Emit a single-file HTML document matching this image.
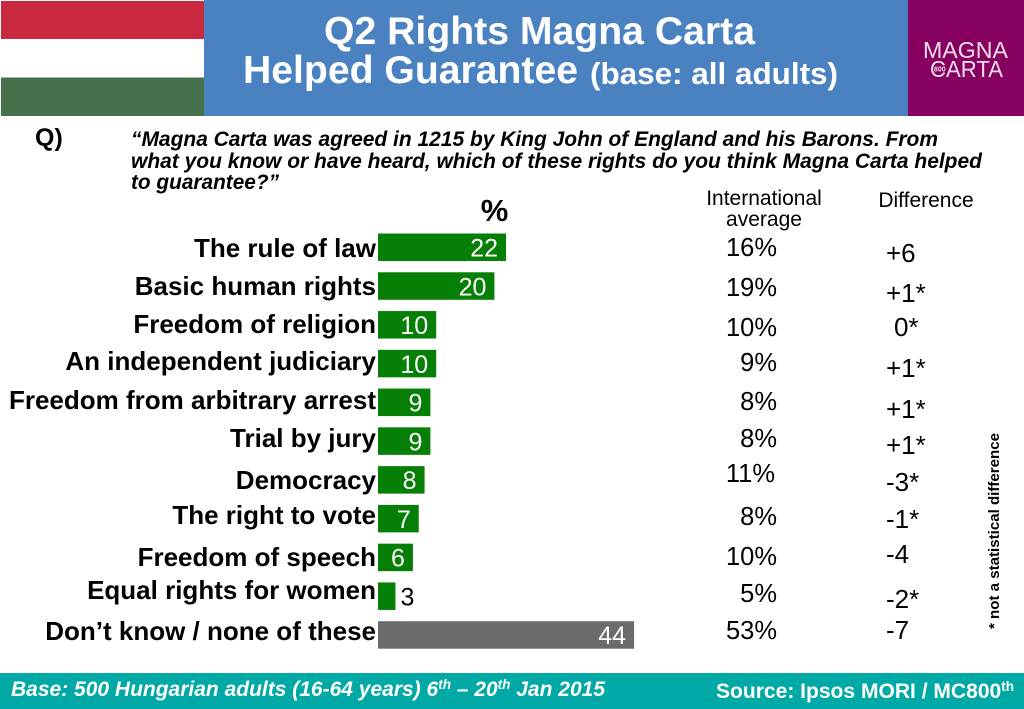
<!DOCTYPE html>
<html lang="en">
<head>
<meta charset="utf-8">
<title>Q2 Rights Magna Carta Helped Guarantee</title>
<style>
html,body{margin:0;padding:0;background:#fff;width:1024px;height:709px;overflow:hidden}
svg{display:block;font-family:"Liberation Sans",Arial,sans-serif}
</style>
</head>
<body>
<svg id="slide" xmlns="http://www.w3.org/2000/svg" width="1024" height="709" viewBox="0 0 1024 709">
  <rect x="0" y="0" width="1024" height="709" fill="#fff"/>

  <g>
    <rect x="1" y="1" width="203" height="38" fill="#c92a40"/>
    <rect x="1" y="39" width="203" height="38.500" fill="#fff"/>
    <rect x="1" y="77.500" width="203" height="38.500" fill="#47704c"/>
  </g>

  <rect x="204" y="0" width="704" height="116" fill="#4a81c1"/>
  <text x="539.500" y="44" font-size="39" font-weight="700" fill="#fff" text-anchor="middle" textLength="431" lengthAdjust="spacingAndGlyphs">Q2 Rights Magna Carta</text>
  <text x="243" y="83" font-size="39" font-weight="700" fill="#fff" textLength="335" lengthAdjust="spacingAndGlyphs">Helped Guarantee</text>
  <text x="590" y="84" font-size="31" font-weight="700" fill="#fff" textLength="248" lengthAdjust="spacingAndGlyphs">(base: all adults)</text>

  <g>
    <rect x="908" y="0" width="116" height="116" fill="#85005f"/>
    <text x="923" y="58" font-size="23" fill="#f3dcec" textLength="85" lengthAdjust="spacingAndGlyphs">MAGNA</text>
    <text x="930" y="77" font-size="23" fill="#f3dcec" textLength="73" lengthAdjust="spacingAndGlyphs">CARTA</text>
    <text x="934" y="71.500" font-size="7" font-weight="700" fill="#f3dcec" stroke="#85005f" stroke-width="2" paint-order="stroke">800</text>
  </g>

  <text x="35" y="146" font-size="25" font-weight="700" fill="#000">Q)</text>
  <g font-size="21" font-weight="700" font-style="italic" fill="#000">
    <text x="131" y="146" textLength="807" lengthAdjust="spacingAndGlyphs">“Magna Carta was agreed in 1215 by King John of England and his Barons. From</text>
    <text x="131" y="168" textLength="851" lengthAdjust="spacingAndGlyphs">what you know or have heard, which of these rights do you think Magna Carta helped</text>
    <text x="131" y="189" textLength="148" lengthAdjust="spacingAndGlyphs">to guarantee?”</text>
  </g>

  <text x="494.500" y="221" font-size="31" font-weight="700" fill="#000" text-anchor="middle">%</text>
  <text x="764" y="205" font-size="21" fill="#000" text-anchor="middle">International</text>
  <text x="764" y="226" font-size="21" fill="#000" text-anchor="middle">average</text>
  <text x="926" y="207" font-size="21" fill="#000" text-anchor="middle">Difference</text>

  <g font-size="26" font-weight="700" fill="#000" text-anchor="end">
    <text x="376" y="257">The rule of law</text>
    <text x="376" y="295">Basic human rights</text>
    <text x="376" y="333">Freedom of religion</text>
    <text x="376" y="370">An independent judiciary</text>
    <text x="376" y="409">Freedom from arbitrary arrest</text>
    <text x="376" y="447">Trial by jury</text>
    <text x="376" y="489">Democracy</text>
    <text x="376" y="524">The right to vote</text>
    <text x="376" y="566">Freedom of speech</text>
    <text x="376" y="599">Equal rights for women</text>
    <text x="376" y="640">Don’t know / none of these</text>
  </g>

  <g id="bars"></g>

  <g font-size="25.500" fill="#000" text-anchor="end">
    <text x="777" y="256">16%</text>
    <text x="777" y="296">19%</text>
    <text x="777" y="336">10%</text>
    <text x="777" y="371">9%</text>
    <text x="777" y="410">8%</text>
    <text x="777" y="447">8%</text>
    <text x="775" y="482">11%</text>
    <text x="777" y="525">8%</text>
    <text x="777" y="565">10%</text>
    <text x="777" y="602">5%</text>
    <text x="777" y="639">53%</text>
  </g>

  <g font-size="26" fill="#000">
    <text x="886" y="262">+6</text>
    <text x="886" y="302">+1*</text>
    <text x="894" y="336">0*</text>
    <text x="886" y="377">+1*</text>
    <text x="886" y="418">+1*</text>
    <text x="886" y="454">+1*</text>
    <text x="886" y="491">-3*</text>
    <text x="886" y="528">-1*</text>
    <text x="886" y="563">-4</text>
    <text x="886" y="608">-2*</text>
    <text x="886" y="639">-7</text>
  </g>

  <text transform="translate(999 629) rotate(-90)" font-size="14.500" font-weight="700" fill="#000" textLength="196" lengthAdjust="spacingAndGlyphs">* not a statistical difference</text>

  <rect x="0" y="673" width="1024" height="36" fill="#00a9a5"/>
  <text x="11" y="696" font-size="21" font-weight="700" font-style="italic" fill="#fff" textLength="594" lengthAdjust="spacingAndGlyphs">Base: 500 Hungarian adults (16-64 years) 6<tspan font-size="13.500" dy="-7">th</tspan><tspan dy="7"> – 20</tspan><tspan font-size="13.500" dy="-7">th</tspan><tspan dy="7"> Jan 2015</tspan></text>
  <text x="716" y="698" font-size="21" font-weight="700" fill="#fff" textLength="298" lengthAdjust="spacingAndGlyphs">Source: Ipsos MORI / MC800<tspan font-size="13.500" dy="-7">th</tspan></text>
</svg>
<script>
const categories = ["The rule of law","Basic human rights","Freedom of religion","An independent judiciary","Freedom from arbitrary arrest","Trial by jury","Democracy","The right to vote","Freedom of speech","Equal rights for women","Don't know / none of these"];
const percentValues = [22,20,10,10,9,9,8,7,6,3,44];
const noOpinionCategory = "Don't know / none of these";

const SVG_NS = 'http://www.w3.org/2000/svg';
const barOriginX = 378;
const pixelsPerPoint = 5.82;
const firstBarTop = 233.5;
const rowStep = 38.77;
const barHeight = 27.5;
const xScale = function (value) { return barOriginX + value * pixelsPerPoint; };
const yScale = function (index) { return firstBarTop + index * rowStep; };
const barGroup = document.getElementById('bars');

categories.forEach(function (category, index) {
  const value = percentValues[index];
  const slug = category.toLowerCase().replace(/[^a-z]+/g, '-');
  const bar = document.createElementNS(SVG_NS, 'rect');
  
  
  bar.setAttribute('x', barOriginX);
  bar.setAttribute('y', yScale(index));
  bar.setAttribute('width', xScale(value) - barOriginX);
  bar.setAttribute('height', barHeight);
  bar.setAttribute('fill', category === noOpinionCategory ? '#6b6b6b' : '#067f06');
  barGroup.appendChild(bar);

  const label = document.createElementNS(SVG_NS, 'text');
  
  
  const fitsInside = value > 3;
  label.setAttribute('x', fitsInside ? xScale(value) - 8 : xScale(value) + 5);
  label.setAttribute('y', yScale(index) + 23);
  label.setAttribute('font-size', '25');
  label.setAttribute('fill', fitsInside ? '#fff' : '#000');
  label.setAttribute('text-anchor', fitsInside ? 'end' : 'start');
  label.textContent = String(value);
  barGroup.appendChild(label);
});
</script>
</body>
</html>
